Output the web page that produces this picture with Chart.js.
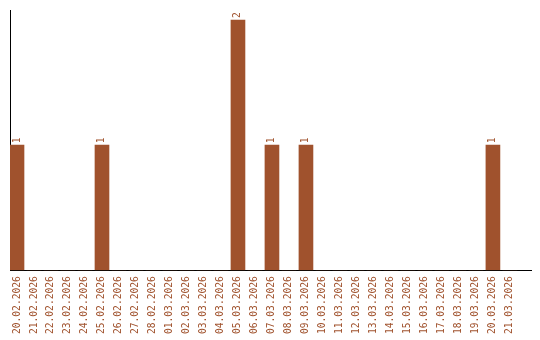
<!DOCTYPE html>
<html>
<head>
<meta charset="utf-8">
<script src="https://cdn.jsdelivr.net/npm/chart.js@4.4.1/dist/chart.umd.min.js"></script>
<style>
  html, body { margin:0; padding:0; background:#fff; }
  #wrap { width:540px; height:340px; }
</style>
</head>
<body>
<div id="wrap"><canvas id="chart"></canvas></div>
<script>
// Tages-Zaehlung, 20.02.2026 - 21.03.2026
const days = [
  '20.02.2026','21.02.2026','22.02.2026','23.02.2026','24.02.2026','25.02.2026',
  '26.02.2026','27.02.2026','28.02.2026','01.03.2026','02.03.2026','03.03.2026',
  '04.03.2026','05.03.2026','06.03.2026','07.03.2026','08.03.2026','09.03.2026',
  '10.03.2026','11.03.2026','12.03.2026','13.03.2026','14.03.2026','15.03.2026',
  '16.03.2026','17.03.2026','18.03.2026','19.03.2026','20.03.2026','21.03.2026'
];
const counts = [1,0,0,0,0,1,0,0,0,0,0,0,0,2,0,1,0,1,0,0,0,0,0,0,0,0,0,0,1,0];

const BAR_COLOR = '#a0522d';
const FONT = "'DejaVu Sans Mono', monospace";

// Werte ueber den Balken, senkrecht gedreht
const valueLabels = {
  id: 'valueLabels',
  afterDatasetsDraw(chart){
    const ctx = chart.ctx;
    const meta = chart.getDatasetMeta(0);
    ctx.save();
    ctx.fillStyle = BAR_COLOR;
    ctx.font = '9.6px ' + FONT;
    ctx.textAlign = 'left';
    ctx.textBaseline = 'middle';
    meta.data.forEach((bar, i) => {
      if(!counts[i]) return;
      ctx.save();
      ctx.translate(bar.x, bar.y - 2);
      ctx.rotate(-Math.PI/2);
      ctx.fillText(String(counts[i]), 0, 0);
      ctx.restore();
    });
    ctx.restore();
  }
};

new Chart(document.getElementById('chart'), {
  type: 'bar',
  data: {
    datasets: [{
      data: days.map((d, i) => ({ x: i, y: counts[i] })),
      backgroundColor: BAR_COLOR,
      borderWidth: 0,
      barThickness: 14
    }]
  },
  options: {
    responsive: true,
    maintainAspectRatio: false,
    animation: false,
    layout: { padding: { top: 10, left: 10, right: 9, bottom: 0 } },
    plugins: { legend: { display: false }, tooltip: { enabled: false } },
    scales: {
      x: {
        type: 'linear',
        offset: false,
        min: -0.412,
        max: 30.24,
        grid: { display: false, drawTicks: false, offset: false },
        border: { display: true, color: '#000', width: 1 },
        afterBuildTicks: s => { s.ticks = days.map((d, i) => ({ value: i })); },
        ticks: {
          autoSkip: false,
          minRotation: 90,
          maxRotation: 90,
          padding: 6,
          color: BAR_COLOR,
          font: { family: FONT, size: 9.6 },
          callback: v => days[v] || ''
        }
      },
      y: {
        min: 0,
        max: 2.08,
        grid: { display: false, drawTicks: false },
        border: { display: true, color: '#000', width: 1 },
        ticks: { display: false }
      }
    }
  },
  plugins: [valueLabels]
});
</script>
</body>
</html>
